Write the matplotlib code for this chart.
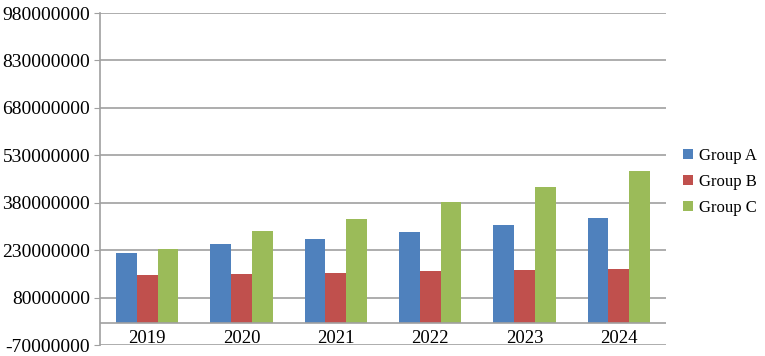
import matplotlib
matplotlib.use("Agg")
import matplotlib.pyplot as plt
import numpy as np
from matplotlib.patches import Patch

years = ["2019", "2020", "2021", "2022", "2023", "2024"]
group_a = [221e6, 249e6, 265e6, 288e6, 311e6, 332e6]
group_b = [150e6, 156e6, 158e6, 163e6, 168e6, 171e6]
group_c = [234e6, 292e6, 330e6, 381e6, 431e6, 479e6]
series_names = ["Group A", "Group B", "Group C"]
colors = ["#4F81BD", "#C0504D", "#9BBB59"]
y_ticks = [-70000000, 80000000, 230000000, 380000000, 530000000, 680000000, 830000000, 980000000]

plt.rcParams['font.family'] = ['Liberation Serif', 'DejaVu Serif']

fig = plt.figure(figsize=(7.65, 3.56), dpi=100)
ax = fig.add_axes([100/765, 11/356, 566/765, 332/356])

x = np.arange(len(years))
w = 0.22
for i, (vals, c) in enumerate(zip([group_a, group_b, group_c], colors)):
    ax.bar(x + (i - 1) * w, vals, width=w, color=c, edgecolor='none', zorder=3)

ax.set_xlim(-0.5, len(years) - 0.5)
ax.set_ylim(y_ticks[0], y_ticks[-1])
ax.set_yticks(y_ticks)
ax.set_yticklabels([str(v) for v in y_ticks], fontsize=14)
ax.yaxis.grid(True, color='#a0a0a0', linewidth=1.2, zorder=0)
ax.set_xticks([])
ax.tick_params(axis='y', length=4, color='#a0a0a0', pad=3)
for s in ['top', 'right', 'bottom']:
    ax.spines[s].set_visible(False)
ax.spines['left'].set_color('#a0a0a0')
ax.spines['left'].set_linewidth(1.2)
ax.axhline(0, color='#a0a0a0', linewidth=1.2, zorder=4)

for xi, lab in zip(x, years):
    ax.annotate(lab, (xi, 0), xytext=(0, -7), textcoords='offset pixels',
                ha='center', va='top', fontsize=13.5)

handles = [Patch(facecolor=c, edgecolor='none') for c in colors]
fig.legend(handles, series_names, loc='center left', bbox_to_anchor=(0.893, 0.489),
           frameon=False, fontsize=12, handlelength=0.6, handleheight=0.6,
           handletextpad=0.35, labelspacing=0.6, borderpad=0, borderaxespad=0)

fig.savefig("out.png", dpi=100)
